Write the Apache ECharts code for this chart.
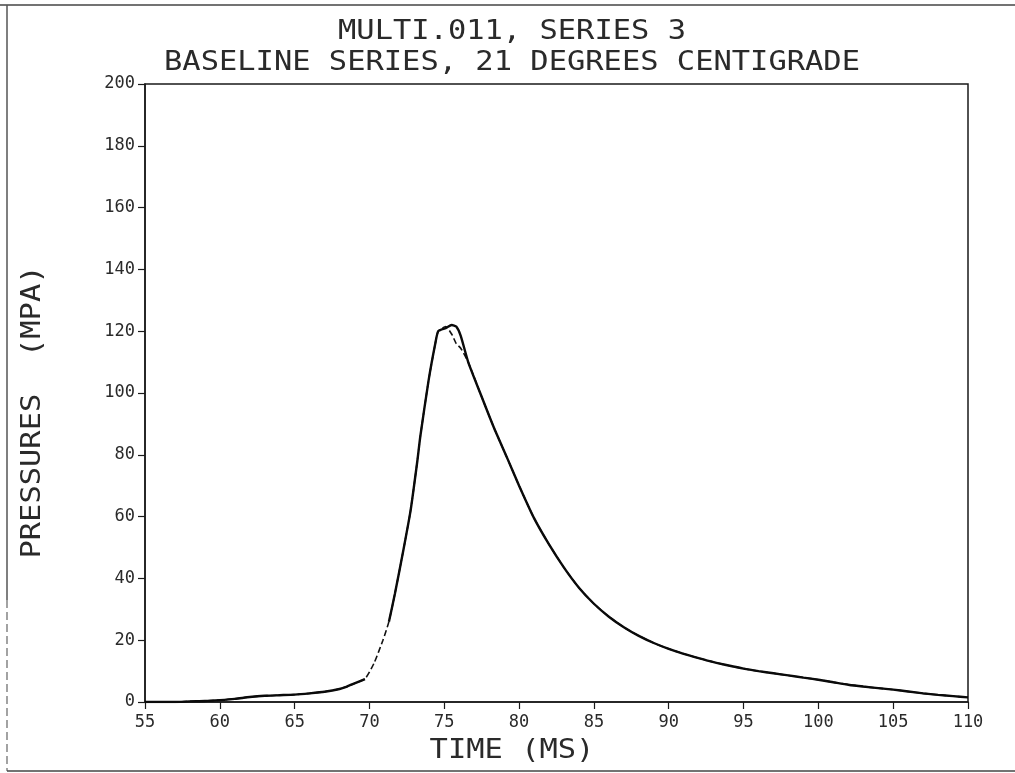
<!DOCTYPE html>
<html>
<head>
<meta charset="utf-8">
<title>MULTI.011, SERIES 3</title>
<script src="https://cdn.jsdelivr.net/npm/echarts@6/dist/echarts.min.js"></script>
<style>
  html, body { margin: 0; padding: 0; background: #fff; }
  #chart { width: 1015px; height: 773px; }
</style>
</head>
<body>
<div id="chart"></div>
<script>
// Pressure trace, baseline series at 21 degrees centigrade
const titleLines = ['MULTI.011, SERIES 3', 'BASELINE SERIES, 21 DEGREES CENTIGRADE'];
const xAxisName = 'TIME (MS)';
const yAxisName = 'PRESSURES  (MPA)';

// time axis samples (ms)
const timeMs = [55, 56, 57, 58, 59, 60, 61, 62, 63, 64, 65, 66, 67, 68, 68.5, 69, 69.7, 70.3, 70.9,
  71.3, 71.7, 72.3, 72.75, 73.2, 73.4, 73.95, 74.4, 74.6, 75.1, 75.5, 75.8, 76.1, 76.6, 77.4, 78.3,
  79.2, 80, 81, 82, 83, 84, 85, 86, 87, 88, 89, 90, 91, 92, 93, 94, 95, 96, 97, 98, 99, 100, 101,
  102, 103, 104, 105, 106, 107, 108, 109, 110];

// solid trace (MPa); gap where the trace jumps on the rise
const solidTrace = [0, 0, 0, 0.2, 0.3, 0.6, 1.0, 1.6, 2.0, 2.2, 2.4, 2.8, 3.3, 4.2, 5, 6, 7.4, null, null,
  26, 35, 50, 62, 78, 86, 104, 116, 120, 121, 122, 121.5, 118.5, 110, 100, 89,
  79, 70, 59.5, 51, 43.5, 37, 31.8, 27.6, 24.2, 21.4, 19.1, 17.2, 15.6, 14.2, 12.9, 11.8, 10.8, 10, 9.3, 8.6, 7.9, 7.2, 6.4,
  5.6, 5, 4.5, 4, 3.4, 2.8, 2.3, 1.9, 1.5];

// dashed trace (MPa)
const dashedTrace = [0, 0, 0, 0.2, 0.3, 0.6, 1.0, 1.6, 2.0, 2.2, 2.4, 2.8, 3.3, 4.2, 5, 6, 7.5, 12.5, 20,
  26, 35, 50, 62, 78, 86, 104, 116, 120, 121.5, 119, 116, 114.5, 110, 100, 89,
  79, 70, 59.5, 51, 43.5, 37, 31.8, 27.6, 24.2, 21.4, 19.1, 17.2, 15.6, 14.2, 12.9, 11.8, 10.8, 10, 9.3, 8.6, 7.9, 7.2, 6.4,
  5.6, 5, 4.5, 4, 3.4, 2.8, 2.3, 1.9, 1.5];

const xTicks = { min: 55, max: 110, step: 5 };
const yTicks = { min: 0, max: 200, step: 20 };

const pairs = (ys) => timeMs.map((t, i) => [t, ys[i]]);

const FONT = '"DejaVu Sans Mono", "Liberation Mono", monospace';
const INK = '#1a1a1a';

const chart = echarts.init(document.getElementById('chart'), null, { renderer: 'canvas' });

const bigText = (text, x, y, rot) => ({
  type: 'text',
  x: x, y: y,
  rotation: rot || 0,
  scaleX: 1.17,
  silent: true,
  style: {
    text: text,
    font: '26px ' + FONT,
    fill: '#2a2a2a',
    align: 'center', verticalAlign: 'middle',
    textAlign: 'center', textVerticalAlign: 'middle'
  }
});

chart.setOption({
  backgroundColor: '#fff',
  animation: false,
  grid: {
    left: 145, right: 47, top: 84, bottom: 71,
    show: true, borderColor: INK, borderWidth: 1.5, backgroundColor: 'transparent'
  },
  xAxis: {
    type: 'value',
    min: xTicks.min, max: xTicks.max, interval: xTicks.step,
    axisLine: { show: true, onZero: false, lineStyle: { color: INK, width: 1.5 } },
    axisTick: { show: true, inside: false, length: 7, lineStyle: { color: INK, width: 1.2 } },
    axisLabel: { color: '#2a2a2a', fontFamily: FONT, fontSize: 17, margin: 12 },
    splitLine: { show: false }
  },
  yAxis: {
    type: 'value',
    min: yTicks.min, max: yTicks.max, interval: yTicks.step,
    axisLine: { show: true, onZero: false, lineStyle: { color: INK, width: 1.5 } },
    axisTick: { show: true, inside: false, length: 7, lineStyle: { color: INK, width: 1.2 } },
    axisLabel: { color: '#2a2a2a', fontFamily: FONT, fontSize: 17, margin: 10 },
    splitLine: { show: false }
  },
  series: [
    {
      type: 'line',
      name: 'dashed',
      data: pairs(dashedTrace),
      showSymbol: false,
      connectNulls: false,
      smooth: 0.2,
      lineStyle: { color: '#111', width: 1.6, type: [6, 3] },
      z: 2
    },
    {
      type: 'line',
      name: 'solid',
      data: pairs(solidTrace),
      showSymbol: false,
      connectNulls: false,
      smooth: 0.2,
      lineStyle: { color: '#0a0a0a', width: 2.4 },
      z: 3
    }
  ],
  graphic: [
    // page frame
    { type: 'line', silent: true, shape: { x1: 0, y1: 5, x2: 1015, y2: 5 }, style: { stroke: '#444', lineWidth: 1.5 } },
    { type: 'line', silent: true, shape: { x1: 7, y1: 5, x2: 7, y2: 600 }, style: { stroke: '#555', lineWidth: 1.5 } },
    { type: 'line', silent: true, shape: { x1: 7, y1: 600, x2: 7, y2: 771 }, style: { stroke: '#666', lineWidth: 1.2, lineDash: [8, 4] } },
    { type: 'line', silent: true, shape: { x1: 7, y1: 771, x2: 1015, y2: 771 }, style: { stroke: '#444', lineWidth: 1.5 } },
    bigText(titleLines[0], 512, 32),
    bigText(titleLines[1], 512, 63),
    bigText(xAxisName, 512, 751),
    bigText(yAxisName, 33, 412, Math.PI / 2)
  ]
});
</script>
</body>
</html>
